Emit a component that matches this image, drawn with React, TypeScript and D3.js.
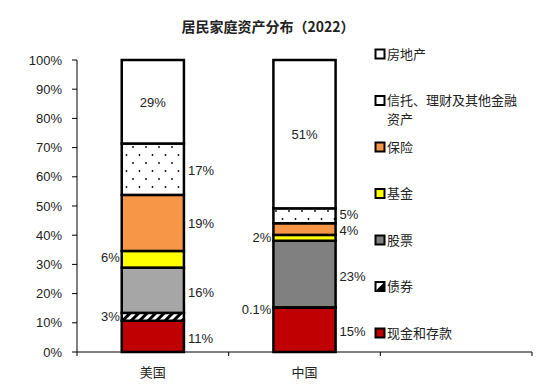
import { useMemo } from "react";
import * as d3 from "d3";

const countries = ["美国", "中国"];
const seriesNames = ["现金和存款", "债券", "股票", "基金", "保险", "信托、理财及其他金融资产", "房地产"];
const legendLines = [["房地产"], ["信托、理财及其他金融", "资产"], ["保险"], ["基金"], ["股票"], ["债券"], ["现金和存款"]];
const usValues = [10.7, 2.7, 15.5, 5.7, 19.2, 17.6, 28.6];
const cnValues = [15.2, 0.1, 22.8, 2.0, 4.0, 5.1, 50.8];
const usLabels = ["11%", "3%", "16%", "6%", "19%", "17%", "29%"];
const cnLabels = ["15%", "0.1%", "23%", "2%", "4%", "5%", "51%"];
const labelSide = ["right", "left", "right", "left", "right", "right", "inside"];
const yTicks = [0, 10, 20, 30, 40, 50, 60, 70, 80, 90, 100];

const fills = ["#C00000", "url(#hatch)", "#A6A6A6", "#FFFF00", "#F79646", "url(#dots)", "#FFFFFF"];
const cnFills = ["#C00000", "url(#hatch)", "#808080", "#FFFF00", "#F79646", "url(#dots)", "#FFFFFF"];
const legendFills = ["#FFFFFF", "#FFFFFF", "#F79646", "#FFFF00", "#808080", "half", "#C00000"];
// small vertical nudges so neighbouring labels don't collide
const usNudge = [2, 0, 2, -2, 1, 1, 1];
const cnNudge = [2, 2, 2, 0, 1.5, -1.5, 0];

const CJK = "'Noto Sans CJK SC', sans-serif";
const NUM = "'Liberation Sans', Arial, sans-serif";

export default function App() {
  const width = 554;
  const height = 385;
  const left = 77;
  const right = 532;
  const top = 60;
  const bottom = 352;

  const x = d3.scaleBand<string>().domain([...countries, "_"]).range([left, right]).padding(0);
  const y = d3.scaleLinear().domain([0, 100]).range([bottom, top]);
  const barW = x.bandwidth() * 0.41;

  const stacks = useMemo(() => {
    return [usValues, cnValues].map((vals) => {
      let acc = 0;
      return vals.map((v) => {
        const s = { y0: acc, y1: acc + v };
        acc += v;
        return s;
      });
    });
  }, []);

  const allLabels = [usLabels, cnLabels];
  const nudges = [usNudge, cnNudge];

  return (
    <svg width={width} height={height} style={{ position: "absolute", left: 0, top: 0, background: "#fff" }}>
      <defs>
        <pattern id="dots" width="13" height="16" patternUnits="userSpaceOnUse">
          <rect width="13" height="16" fill="#fff" />
          <circle cx="3" cy="3" r="0.9" fill="#000" />
          <circle cx="9.5" cy="11" r="0.9" fill="#000" />
        </pattern>
        <pattern id="hatch" width="6" height="6" patternUnits="userSpaceOnUse" patternTransform="rotate(45)">
          <rect width="6" height="6" fill="#fff" />
          <rect width="3" height="6" fill="#000" />
        </pattern>
      </defs>

      <text x={268} y={32} textAnchor="middle" fontFamily={CJK} fontSize={14} fontWeight={700} fill="#222">
        居民家庭资产分布（2022）
      </text>

      {/* y axis */}
      <line x1={left} x2={left} y1={top} y2={bottom} stroke="#000" strokeWidth={1} />
      {yTicks.map((t) => (
        <g key={t}>
          <line x1={left - 5} x2={left} y1={y(t)} y2={y(t)} stroke="#000" />
          <text x={62} y={y(t)} dy="0.35em" textAnchor="end" fontFamily={NUM} fontSize={13} fill="#222">
            {t}%
          </text>
        </g>
      ))}

      {/* x axis */}
      <line x1={left} x2={right} y1={bottom} y2={bottom} stroke="#000" />
      {[...x.domain().map((d) => x(d)!), right].map((px, i) => (
        <line key={i} x1={px} x2={px} y1={bottom} y2={bottom + 4} stroke="#000" />
      ))}
      {countries.map((c) => (
        <text key={c} x={x(c)! + x.bandwidth() / 2} y={372} dy="0.35em" textAnchor="middle" fontFamily={CJK} fontSize={13} fill="#222">
          {c}
        </text>
      ))}

      {/* bars */}
      {countries.map((c, ci) => {
        const cx = x(c)! + x.bandwidth() / 2;
        const x0 = cx - barW / 2;
        const x1 = cx + barW / 2;
        const segs = stacks[ci];
        const fl = ci === 0 ? fills : cnFills;
        return (
          <g key={c}>
            {segs.map((s, si) => (
              <rect key={si} x={x0} y={y(s.y1)} width={barW} height={y(s.y0) - y(s.y1)} fill={fl[si]} stroke="#000" strokeWidth={2.5} />
            ))}
            {segs.map((s, si) => {
              const side = labelSide[si];
              const my = (y(s.y0) + y(s.y1)) / 2 + nudges[ci][si];
              const lx = side === "right" ? x1 + 4 : side === "left" ? x0 - 2 : cx;
              const anchor = side === "right" ? "start" : side === "left" ? "end" : "middle";
              return (
                <text key={"l" + si} x={lx} y={my} dy="0.35em" textAnchor={anchor} fontFamily={NUM} fontSize={13} fill="#222">
                  {allLabels[ci][si]}
                </text>
              );
            })}
          </g>
        );
      })}

      {/* legend */}
      {legendLines.map((lines, i) => {
        const ly = 54 + i * 46.5;
        const f = legendFills[i];
        return (
          <g key={i}>
            <rect x={375.5} y={ly - 4.5} width={9} height={9} fill={f === "half" ? "#fff" : f} stroke="#000" strokeWidth={2} />
            {f === "half" && <path d={`M375.5,${ly + 4.5}L384.5,${ly - 4.5}L384.5,${ly + 4.5}Z`} fill="#000" />}
            {lines.map((ln, li) => (
              <text key={li} x={387} y={ly + li * 19} dy="0.35em" fontFamily={CJK} fontSize={13} fill="#222">
                {ln}
              </text>
            ))}
          </g>
        );
      })}
    </svg>
  );
}
